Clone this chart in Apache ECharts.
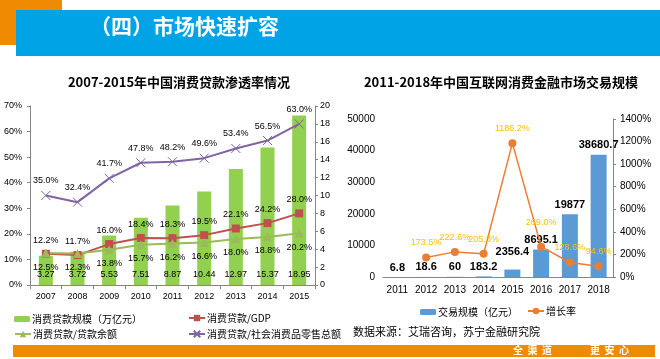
<!DOCTYPE html>
<html><head><meta charset="utf-8">
<script src="https://cdn.jsdelivr.net/npm/echarts@6/dist/echarts.min.js"></script>
<style>html,body{margin:0;padding:0;background:#fff}#c{width:660px;height:359px}</style>
</head><body><div id="c"></div>
<script>
// ---- data: left chart ----
const years1 = ['2007','2008','2009','2010','2011','2012','2013','2014','2015'];
const loanScale = [3.27,3.72,5.53,7.51,8.87,10.44,12.97,15.37,18.95];      // 万亿元
const loanGdp = [12.2,11.7,16.0,18.4,18.3,19.5,22.1,24.2,28.0];            // %
const loanBalance = [12.5,12.3,13.8,15.7,16.2,16.6,18.0,18.8,20.2];        // %
const loanRetail = [35.0,32.4,41.7,47.8,48.2,49.6,53.4,56.5,63.0];         // %
// ---- data: right chart ----
const years2 = ['2011','2012','2013','2014','2015','2016','2017','2018'];
const tradeScale = [6.8,18.6,60,183.2,2356.4,8695.1,19877,38680.7];       // 亿元
const growthRate = [null,173.5,222.6,205.3,1186.2,269.0,128.6,94.6];       // %

const FONT = "'Liberation Sans','Noto Sans CJK SC',sans-serif";
const CJK = "'Noto Sans CJK SC','Liberation Sans',sans-serif";
const names = ['消费贷款规模（万亿元）','消费贷款/GDP','消费贷款/贷款余额','消费贷款/社会消费品零售总额','交易规模（亿元）','增长率'];

const chart = echarts.init(document.getElementById('c'), null, {renderer:'canvas'});
const axisLbl = {color:'#000', fontSize:9, fontFamily:FONT};
const lineAxis = {show:true, lineStyle:{color:'#868686', width:1}};
const tick = {show:true, length:3, lineStyle:{color:'#868686'}};

function legendAt(name, left, top, iw, ih){
  return {data:[name], left:left, top:top, itemWidth:iw, itemHeight:ih, itemGap:0, padding:0,
    selectedMode:false, textStyle:{fontSize:10, fontFamily:CJK, color:'#000', padding:[0,0,0,-3]}};
}
// label placement tweaks (style only) for crowded points
const tradeData = tradeScale.map((v,i)=> i===4 ? {value:v, label:{distance:12}} : v);
const growthData = growthRate.map((v,i)=> i===5 ? {value:v, label:{distance:16}} : v);

const option = {
  animation:false,
  backgroundColor:'#fff',
  title:[
    {text:'2007-2015年中国消费贷款渗透率情况', left:174, top:71, textAlign:'center',
     textStyle:{fontSize:13, fontWeight:'bold', fontFamily:CJK, color:'#000'}},
    {text:'2011-2018年中国互联网消费金融市场交易规模', left:496, top:71, textAlign:'center',
     textStyle:{fontSize:13, fontWeight:'bold', fontFamily:CJK, color:'#000'}}
  ],
  graphic:[
    {type:'rect', shape:{x:0,y:0,width:62,height:45}, style:{fill:'#F08A00'}},
    {type:'rect', shape:{x:16,y:10,width:644,height:46}, style:{fill:'#00A3E6'}},
    {type:'text', x:90, y:16, style:{text:'（四）市场快速扩容', fill:'#fff', font:"bold 21px 'Noto Sans CJK SC'"}},
    {type:'rect', shape:{x:13,y:345,width:642,height:12}, style:{fill:'#F08A00'}},
    {type:'text', x:513, y:345, style:{text:'全  渠  道', fill:'#fff', font:"bold 10px 'Noto Sans CJK SC'"}},
    {type:'text', x:590, y:345, style:{text:'更  安  心', fill:'#fff', font:"bold 10px 'Noto Sans CJK SC'"}},
    {type:'text', x:353, y:326, style:{text:'数据来源：艾瑞咨询，苏宁金融研究院', fill:'#000', font:"11px 'Noto Sans CJK SC'"}}
  ],
  legend:[
    legendAt(names[0], 14, 314, 16, 6),
    legendAt(names[1], 188, 313, 16, 8),
    legendAt(names[2], 14, 329, 16, 8),
    legendAt(names[3], 188, 329, 16, 8),
    legendAt(names[4], 420, 307, 16, 6),
    legendAt(names[5], 527, 306, 16, 8)
  ],
  grid:[
    {left:30, width:285, top:106, height:179},
    {left:383, width:230, top:119, height:158}
  ],
  xAxis:[
    {type:'category', gridIndex:0, data:years1, axisLine:lineAxis, axisTick:{show:true,length:4,lineStyle:{color:'#868686'}},
     axisLabel:Object.assign({margin:7, interval:0}, axisLbl)},
    {type:'category', gridIndex:1, data:years2, axisLine:lineAxis, axisTick:{show:false},
     axisLabel:Object.assign({margin:8, interval:0}, axisLbl, {fontSize:10})}
  ],
  yAxis:[
    {type:'value', gridIndex:0, min:0, max:70, interval:10, axisLine:lineAxis, axisTick:tick,
     splitLine:{show:false}, axisLabel:Object.assign({formatter:v=>v+'%', margin:8}, axisLbl)},
    {type:'value', gridIndex:0, position:'right', min:0, max:20, interval:2, axisLine:lineAxis, axisTick:tick,
     splitLine:{show:false}, axisLabel:Object.assign({formatter:v=>String(v), margin:5}, axisLbl)},
    {type:'value', gridIndex:1, min:0, max:50000, interval:10000, axisLine:{show:false}, axisTick:{show:false},
     splitLine:{show:false}, axisLabel:Object.assign({formatter:v=>String(v), margin:8}, axisLbl, {fontSize:10})},
    {type:'value', gridIndex:1, position:'right', min:0, max:1400, interval:200, axisLine:lineAxis, axisTick:tick,
     splitLine:{show:false}, axisLabel:Object.assign({formatter:v=>v+'%', margin:7}, axisLbl, {fontSize:10})}
  ],
  series:[
    {name:names[0], type:'bar', xAxisIndex:0, yAxisIndex:1, data:loanScale, barWidth:14,
     itemStyle:{color:'#92D050'},
     label:{show:true, position:'insideBottom', distance:6, color:'#000', fontSize:9, fontFamily:FONT}},
    {name:names[1], type:'line', xAxisIndex:0, yAxisIndex:0, data:loanGdp, symbol:'rect', symbolSize:8,
     lineStyle:{color:'#C0504D', width:2}, itemStyle:{color:'#C0504D'},
     label:{show:true, position:'top', distance:5, color:'#000', fontSize:9, fontFamily:FONT, formatter:p=>p.value.toFixed(1)+'%'}},
    {name:names[2], type:'line', xAxisIndex:0, yAxisIndex:0, data:loanBalance, symbol:'triangle', symbolSize:9,
     lineStyle:{color:'#9BBB59', width:2}, itemStyle:{color:'#9BBB59'},
     label:{show:true, position:'bottom', distance:5, color:'#000', fontSize:9, fontFamily:FONT, formatter:p=>p.value.toFixed(1)+'%'}},
    {name:names[3], type:'line', xAxisIndex:0, yAxisIndex:0, data:loanRetail,
     symbol:'path://M0,0L10,10M10,0L0,10', symbolSize:9,
     lineStyle:{color:'#8064A2', width:2}, itemStyle:{color:'#8064A2', borderColor:'#8064A2', borderWidth:1},
     label:{show:true, position:'top', distance:5, color:'#000', fontSize:9, fontFamily:FONT, formatter:p=>p.value.toFixed(1)+'%'}},
    {name:names[4], type:'bar', xAxisIndex:1, yAxisIndex:2, data:tradeData, barWidth:16,
     itemStyle:{color:'#5B9BD5'},
     label:{show:true, position:'top', distance:4, color:'#000', fontSize:11, fontWeight:'bold', fontFamily:FONT}},
    {name:names[5], type:'line', xAxisIndex:1, yAxisIndex:3, data:growthData, symbol:'circle', symbolSize:8,
     lineStyle:{color:'#ED7D31', width:1.5}, itemStyle:{color:'#ED7D31'},
     label:{show:true, position:'top', distance:6, color:'#FFC000', fontSize:9, fontFamily:FONT,
       formatter:p=>p.value==null?'':p.value.toFixed(1)+'%'}}
  ]
};
chart.setOption(option);
</script></body></html>
